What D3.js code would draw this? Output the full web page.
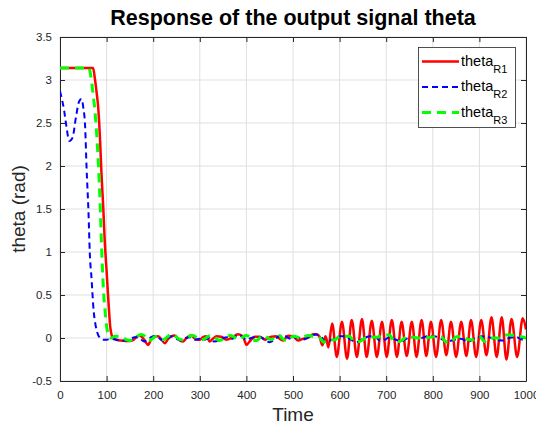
<!DOCTYPE html>
<html>
<head>
<meta charset="utf-8">
<script src="https://cdn.jsdelivr.net/npm/d3@7"></script>
<style>
  body { margin: 0; background: #fff; }
  svg { font-family: "Liberation Sans", Arial, sans-serif; }
  .axis text { font-size: 11.5px; fill: #262626; }
  .axis path, .axis line { stroke: #262626; }
  .grid line { stroke: #dfdfdf; }
</style>
</head>
<body>
<svg width="536" height="428"></svg>
<script>
// **** Data ****

var xTicks = [0, 100, 200, 300, 400, 500, 600, 700, 800, 900, 1000];
var yTicks = [-0.5, 0, 0.5, 1, 1.5, 2, 2.5, 3, 3.5];
var seriesNames = ['R1', 'R2', 'R3'];

// theta_R1 (red)
var r1Time = [0, 71, 74, 78, 82, 86, 89, 93, 96, 100, 104, 108, 111, 114,
    122, 130, 140, 150, 158, 164, 171, 178, 184, 189, 196, 204, 211, 218, 225, 232, 239, 246,
    252, 258, 264, 270, 276, 282, 288, 294, 300, 307, 314, 321, 328, 336, 346, 357, 368, 382,
    393, 400, 407, 418, 429, 440, 447, 454, 464, 472, 479, 489, 500, 511, 521, 530, 536, 543,
    550, 557, 563, 570, 576,
    584, 594, 605, 616, 626, 637, 648, 658, 669, 680, 691, 701, 712, 723, 733, 744, 755, 765,
    776, 786, 796, 807, 818, 829, 839, 850, 861, 872, 882, 893, 904, 915, 926, 937, 948, 958,
    969, 981, 993, 1000];
var r1Val = [3.14, 3.14, 3.05, 2.88, 2.68, 2.3, 1.91, 1.5, 1.13, 0.78, 0.42, 0.12, 0.03, 0.0,
    -0.02, -0.03, -0.035, -0.035, -0.02, 0.015, 0.03, 0.0, -0.05, -0.08, -0.01, 0.02, 0.02, -0.02, -0.06, -0.01, 0.02, 0.03,
    0.0, -0.03, -0.04, -0.01, 0.02, 0.03, 0.0, -0.02, -0.02, 0.01, 0.02, -0.04, -0.01, 0.02, 0.015, -0.02, 0.0, 0.045,
    0.015, -0.08, -0.04, 0.015, 0.015, -0.02, 0.0, 0.015, 0.02, -0.01, -0.03, 0.025, 0.02, -0.03, -0.01, 0.0, 0.015, 0.045,
    0.045, 0.015, -0.085, 0.02, -0.11,
    0.17, -0.22, 0.19, -0.24, 0.21, -0.22, 0.22, -0.22, 0.2, -0.22, 0.19, -0.22, 0.21, -0.22, 0.19, -0.21, 0.19, -0.22,
    0.21, -0.21, 0.19, -0.22, 0.21, -0.2, 0.19, -0.22, 0.19, -0.21, 0.21, -0.22, 0.21, -0.2, 0.24, -0.22, 0.24, -0.25,
    0.22, -0.22, 0.23, 0.1];

// theta_R2 (blue)
var r2Time = [0, 9, 14, 20, 27, 34, 41, 46, 50, 54, 57, 61, 64, 68, 71, 77, 86, 93,
    100, 110, 120, 130, 140, 150, 160, 170, 180, 190, 200, 210, 220, 230, 240, 250, 260, 270,
    280, 290, 300, 310, 320, 330, 340, 350, 360, 370, 380, 390, 400, 410, 420, 430, 440, 450,
    460, 470, 480, 490, 500, 510, 520, 530, 540, 550, 560, 568, 579, 590, 600, 610, 621, 636,
    650, 665, 675, 686, 697, 707, 721, 732, 743, 754, 764, 775, 789, 803, 818, 832, 846, 860,
    875, 890, 904, 920, 936, 950, 964, 979, 993, 1000];
var r2Val = [2.87, 2.64, 2.45, 2.29, 2.33, 2.56, 2.75, 2.78, 2.68, 2.45, 1.98, 1.48, 0.98, 0.67, 0.4, 0.13, 0.0, -0.02,
    -0.02, -0.01, -0.02, -0.03, -0.03, -0.02, 0.01, 0.0, -0.04, -0.01, 0.02, 0.01, -0.03, 0.0, 0.02, -0.01, -0.03, 0.0,
    0.01, -0.02, -0.01, -0.02, 0.0, -0.04, -0.03, 0.0, 0.01, -0.01, 0.03, 0.02, -0.02, 0.0, 0.01, 0.01, -0.02, -0.05,
    -0.02, 0.02, 0.03, 0.0, -0.01, 0.01, -0.02, 0.0, 0.03, 0.04, 0.02, -0.04, -0.03, -0.01, 0.02, 0.02, -0.01, -0.05,
    -0.01, 0.02, 0.02, -0.03, -0.02, 0.01, -0.02, -0.04, -0.01, 0.01, 0.0, 0.0, 0.02, 0.02, -0.01, -0.04, -0.02, -0.01,
    -0.04, -0.01, 0.02, 0.01, -0.02, -0.03, 0.0, 0.01, -0.02, -0.01];

// theta_R3 (green)
var r3Time = [0, 62, 66, 70, 75, 82, 86, 89, 93, 97, 100, 104,
    110, 118, 126, 134, 142, 150, 158, 166, 174, 182, 190, 198, 206, 214, 222, 230, 238, 246,
    254, 262, 270, 278, 286, 294, 302, 310, 318, 326, 334, 342, 350, 358, 366, 374, 382, 390,
    398, 406, 414, 422, 430, 438, 446, 454, 462, 470, 478, 486, 494, 502, 510, 518, 526, 534,
    542, 550, 558, 566, 575, 590, 600, 621, 632, 643, 655, 665, 680, 693, 707, 718, 729, 746,
    757, 768, 782, 803, 818, 829, 839, 850, 861, 879, 886, 900, 911, 920, 932, 943, 957, 968,
    982, 989, 1000];
var r3Val = [3.14, 3.14, 3.05, 2.88, 2.64, 2.06, 1.58, 1.1, 0.58, 0.3, 0.14, 0.03,
    0.0, 0.02, 0.02, 0.01, -0.02, -0.03, -0.02, 0.02, 0.04, 0.02, -0.03, -0.01, 0.02, 0.0, -0.02, 0.01, 0.04, 0.03,
    -0.01, -0.02, 0.0, 0.02, 0.03, 0.0, -0.02, -0.01, 0.02, 0.03, 0.0, -0.03, -0.01, 0.02, 0.03, 0.01, -0.02, 0.0,
    0.03, 0.02, -0.03, -0.03, 0.01, 0.03, 0.0, -0.02, 0.02, 0.03, -0.01, -0.03, 0.0, 0.02, 0.01, -0.01, 0.02, 0.03,
    0.02, 0.01, 0.0, -0.05, -0.02, -0.02, 0.02, 0.02, -0.04, -0.04, 0.0, 0.01, 0.01, 0.035, 0.035, -0.04, -0.04, 0.02,
    0.01, 0.0, 0.0, 0.015, 0.015, -0.05, -0.05, 0.015, 0.015, -0.02, -0.02, 0.02, -0.04, 0.0, 0.0, 0.0, 0.035, 0.035,
    0.015, 0.015, 0.0];

// **** Scales, axes and labels ****

var svg = d3.select('svg');

var xScale = d3.scaleLinear().domain([0, 1000]).range([60, 526]);
var yScale = d3.scaleLinear().domain([-0.5, 3.5]).range([381, 37]);

// grid
svg.append('g').attr('class', 'grid')
    .selectAll('line.gx').data(xTicks).enter().append('line')
    .attr('x1', function(d) { return xScale(d); })
    .attr('x2', function(d) { return xScale(d); })
    .attr('y1', yScale(-0.5)).attr('y2', yScale(3.5));
svg.select('g.grid')
    .selectAll('line.gy').data(yTicks).enter().append('line')
    .attr('x1', xScale(0)).attr('x2', xScale(1000))
    .attr('y1', function(d) { return yScale(d); })
    .attr('y2', function(d) { return yScale(d); });

svg.append('g').attr('class', 'x axis')
    .attr('transform', 'translate(0,381)')
    .call(d3.axisBottom(xScale).tickValues(xTicks).tickSizeInner(-5).tickSizeOuter(0).tickPadding(10)
        .tickFormat(function(d) { return d; }));

svg.append('g').attr('class', 'x axis top')
    .attr('transform', 'translate(0,37)')
    .call(d3.axisTop(xScale).tickValues(xTicks).tickSizeInner(-5).tickSizeOuter(0).tickFormat(''));

svg.append('g').attr('class', 'y axis')
    .attr('transform', 'translate(60,0)')
    .call(d3.axisLeft(yScale).tickValues(yTicks).tickSizeInner(-5).tickSizeOuter(0).tickPadding(8)
        .tickFormat(function(d) { return d; }));

svg.append('g').attr('class', 'y axis right')
    .attr('transform', 'translate(526,0)')
    .call(d3.axisRight(yScale).tickValues(yTicks).tickSizeInner(-5).tickSizeOuter(0).tickFormat(''));

// clip for lines
svg.append('clipPath').attr('id', 'plotclip')
    .append('rect').attr('x', 60).attr('y', 37).attr('width', 466).attr('height', 344);

var line = d3.line()
    .x(function(d) { return xScale(d.t); })
    .y(function(d) { return yScale(d.v); })
    .curve(d3.curveMonotoneX);

function zipSeries(times, vals) {
    return times.map(function(t, i) { return {t: t, v: vals[i]}; });
}

var series = [
    {name: 'R1', data: zipSeries(r1Time, r1Val), color: '#ff0000', width: 2.5, dash: null},
    {name: 'R2', data: zipSeries(r2Time, r2Val), color: '#0000ff', width: 2, dash: '6,4'},
    {name: 'R3', data: zipSeries(r3Time, r3Val), color: '#00ff00', width: 3, dash: '9,6'}
];

svg.append('g').attr('clip-path', 'url(#plotclip)')
    .selectAll('path').data(series).enter().append('path')
    .attr('d', function(d) { return line(d.data); })
    .attr('fill', 'none')
    .attr('stroke', function(d) { return d.color; })
    .attr('stroke-width', function(d) { return d.width; })
    .attr('stroke-dasharray', function(d) { return d.dash; })
    .attr('stroke-linejoin', 'round');

// legend
var legend = svg.append('g').attr('class', 'legend');
legend.append('rect')
    .attr('x', 418.5).attr('y', 47.5).attr('width', 97).attr('height', 80)
    .attr('fill', '#fff').attr('stroke', '#262626').attr('stroke-width', 0.8);

var items = legend.selectAll('g.item').data(series).enter().append('g')
    .attr('transform', function(d, i) { return 'translate(0,' + (61.5 + i * 25.5) + ')'; });
items.append('line')
    .attr('x1', 422).attr('x2', 459).attr('y1', 0).attr('y2', 0)
    .attr('stroke', function(d) { return d.color; })
    .attr('stroke-width', function(d) { return d.width; })
    .attr('stroke-dasharray', function(d) { return d.dash; });
var labels = items.append('text')
    .attr('x', 461).attr('y', 4)
    .style('font-size', '14.5px').style('fill', '#000');
labels.append('tspan').text('theta');
labels.append('tspan').attr('dy', 7).style('font-size', '11px')
    .text(function(d, i) { return seriesNames[i]; });

// titles
svg.append('text')
    .attr('x', 293).attr('y', 25)
    .attr('text-anchor', 'middle')
    .style('font-size', '21.5px').style('font-weight', 'bold')
    .text('Response of the output signal theta');

svg.append('text')
    .attr('x', 293).attr('y', 421)
    .attr('text-anchor', 'middle')
    .style('font-size', '19px').style('fill', '#262626')
    .text('Time');

svg.append('text')
    .attr('transform', 'translate(25,209) rotate(-90)')
    .attr('text-anchor', 'middle')
    .style('font-size', '19px').style('fill', '#262626')
    .text('theta (rad)');
</script>
</body>
</html>
